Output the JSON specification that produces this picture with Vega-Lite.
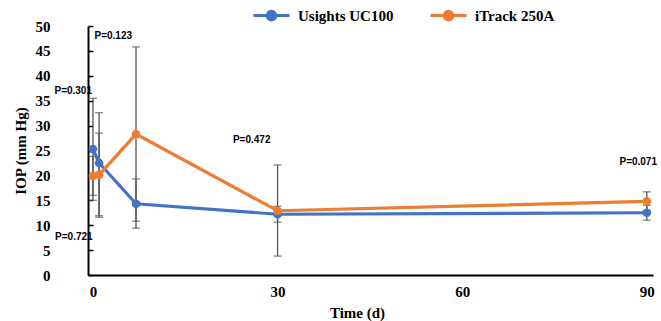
{
  "$schema": "https://vega.github.io/schema/vega-lite/v6.json",
  "width": 565,
  "height": 249,
  "autosize": {"type": "none"},
  "padding": {"left": 88, "top": 26, "right": 8, "bottom": 46},
  "background": "white",
  "config": {
    "view": {"stroke": null},
    "axis": {
      "titleFont": "Liberation Serif", "titleFontSize": 15, "titleFontWeight": "bold", "titleColor": "#000",
      "labelFont": "Liberation Serif", "labelFontSize": 15, "labelFontWeight": "bold", "labelColor": "#000",
      "grid": false, "domainColor": "#000", "domainWidth": 2
    },
    "axisX": {"ticks": false, "labelPadding": 9, "titlePadding": 6, "titleX": 269},
    "axisY": {"labelOverlap": false, "tickSize": -5, "tickColor": "#000", "tickWidth": 1.5, "labelPadding": 43, "titlePadding": 7}
  },
  "datasets": {
    "iop": [
      {"day": 0, "device": "Usights UC100", "iop": 25.3, "lo": 15.0, "hi": 35.5},
      {"day": 1, "device": "Usights UC100", "iop": 22.5, "lo": 11.9, "hi": 32.6},
      {"day": 7, "device": "Usights UC100", "iop": 14.3, "lo": 9.4, "hi": 19.3},
      {"day": 30, "device": "Usights UC100", "iop": 12.2, "lo": 10.6, "hi": 13.8},
      {"day": 90, "device": "Usights UC100", "iop": 12.5, "lo": 11.0, "hi": 14.0},
      {"day": 0, "device": "iTrack 250A", "iop": 19.9, "lo": 16.0, "hi": 23.8},
      {"day": 1, "device": "iTrack 250A", "iop": 20.1, "lo": 11.6, "hi": 28.5},
      {"day": 7, "device": "iTrack 250A", "iop": 28.3, "lo": 10.8, "hi": 45.8},
      {"day": 30, "device": "iTrack 250A", "iop": 12.9, "lo": 3.8, "hi": 22.1},
      {"day": 90, "device": "iTrack 250A", "iop": 14.8, "lo": 12.9, "hi": 16.7}
    ],
    "pvals": [
      {"day": -3.2, "y": 37.0, "label": "P=0.301"},
      {"day": 3.3, "y": 48.0, "label": "P=0.123"},
      {"day": -3.1, "y": 7.6, "label": "P=0.721"},
      {"day": 25.8, "y": 27.1, "label": "P=0.472"},
      {"day": 88.6, "y": 22.6, "label": "P=0.071"}
    ]
  },
  "layer": [
    {
      "data": {"name": "iop"},
      "mark": {"type": "rule", "color": "#555555", "strokeWidth": 1.3},
      "encoding": {
        "x": {"field": "day", "type": "quantitative", "scale": {"domain": [-0.8, 91], "nice": false, "zero": false}, "axis": {"values": [0, 30, 60, 90], "title": "Time (d)"}},
        "y": {"field": "lo", "type": "quantitative", "scale": {"domain": [0, 50], "nice": false}, "axis": {"values": [0, 5, 10, 15, 20, 25, 30, 35, 40, 45, 50], "title": "IOP (mm Hg)"}},
        "y2": {"field": "hi"}
      }
    },
    {
      "data": {"name": "iop"},
      "mark": {"type": "tick", "color": "#555555", "thickness": 1.3, "size": 8, "orient": "horizontal"},
      "encoding": {
        "x": {"field": "day", "type": "quantitative", "axis": {"values": [0, 30, 60, 90], "title": "Time (d)"}},
        "y": {"field": "lo", "type": "quantitative", "axis": {"values": [0, 5, 10, 15, 20, 25, 30, 35, 40, 45, 50], "title": "IOP (mm Hg)"}}
      }
    },
    {
      "data": {"name": "iop"},
      "mark": {"type": "tick", "color": "#555555", "thickness": 1.3, "size": 8, "orient": "horizontal"},
      "encoding": {
        "x": {"field": "day", "type": "quantitative", "axis": {"values": [0, 30, 60, 90], "title": "Time (d)"}},
        "y": {"field": "hi", "type": "quantitative", "axis": {"values": [0, 5, 10, 15, 20, 25, 30, 35, 40, 45, 50], "title": "IOP (mm Hg)"}}
      }
    },
    {
      "data": {"name": "iop"},
      "mark": {"type": "line", "strokeWidth": 3.2},
      "encoding": {
        "x": {"field": "day", "type": "quantitative", "axis": {"values": [0, 30, 60, 90], "title": "Time (d)"}},
        "y": {"field": "iop", "type": "quantitative", "axis": {"values": [0, 5, 10, 15, 20, 25, 30, 35, 40, 45, 50], "title": "IOP (mm Hg)"}},
        "color": {
          "field": "device", "type": "nominal",
          "scale": {"domain": ["Usights UC100", "iTrack 250A"], "range": ["#4472C4", "#ED7D31"]},
          "legend": {
            "title": null,
            "orient": "none",
            "direction": "horizontal",
            "legendX": 164,
            "legendY": -30,
            "symbolType": "M-1,0H1M-0.24,0A0.24,0.24,0,1,1,0.24,0A0.24,0.24,0,1,1,-0.24,0Z",
            "symbolSize": 1296,
            "symbolStrokeWidth": 3,
            "labelFont": "Liberation Serif", "labelFontSize": 15, "labelFontWeight": "bold", "labelColor": "#000",
            "labelOffset": 7,
            "columnPadding": 30,
            "encode": {"symbols": {"update": {"fill": {"scale": "color", "field": "value"}, "fillOpacity": {"value": 1}}}}
          }
        }
      }
    },
    {
      "data": {"name": "iop"},
      "mark": {"type": "point", "filled": true, "size": 75, "opacity": 1},
      "encoding": {
        "x": {"field": "day", "type": "quantitative", "axis": {"values": [0, 30, 60, 90], "title": "Time (d)"}},
        "y": {"field": "iop", "type": "quantitative", "axis": {"values": [0, 5, 10, 15, 20, 25, 30, 35, 40, 45, 50], "title": "IOP (mm Hg)"}},
        "color": {"field": "device", "type": "nominal", "legend": null}
      }
    },
    {
      "data": {"name": "pvals"},
      "mark": {"type": "text", "font": "Liberation Sans", "fontSize": 10, "fontWeight": "bold", "color": "#000", "clip": false},
      "encoding": {
        "x": {"field": "day", "type": "quantitative", "axis": {"values": [0, 30, 60, 90], "title": "Time (d)"}},
        "y": {"field": "y", "type": "quantitative", "axis": {"values": [0, 5, 10, 15, 20, 25, 30, 35, 40, 45, 50], "title": "IOP (mm Hg)"}},
        "text": {"field": "label"}
      }
    }
  ]
}
